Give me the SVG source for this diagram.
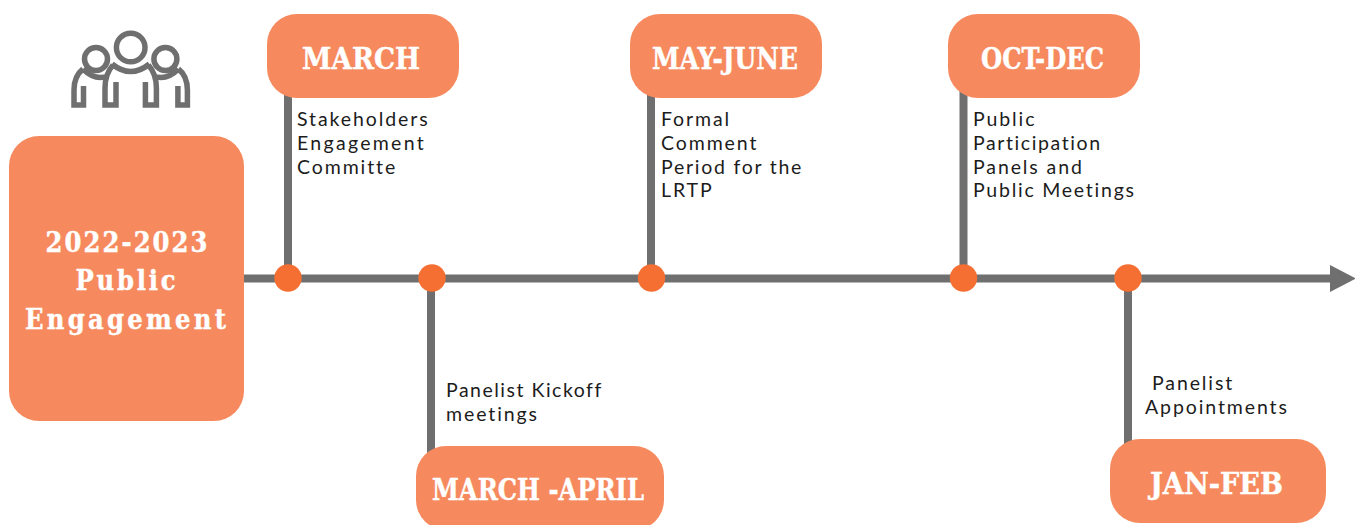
<svg xmlns="http://www.w3.org/2000/svg" width="1355" height="525" viewBox="0 0 1355 525">
<style>
.box{fill:#f68a5e}
.line{stroke:#6f6f6f;stroke-width:8;fill:none}
.dot{fill:#f56f33}
.h{font-family:"DejaVu Serif Condensed","DejaVu Serif",serif;font-weight:700;fill:#fff;text-anchor:middle;stroke:#fff;stroke-width:.4}
.m{font-size:30px}
.t{font-size:27px}
.b{font-family:Lato,"Noto Sans",sans-serif;font-size:19.5px;letter-spacing:1.9px;fill:#1c1c1c}
.ic{fill:none;stroke:#6f6f6f;stroke-width:5.500}
</style>
<rect width="1355" height="525" fill="#fff"/>
<g id="connectors">
<path class="line" d="M240 278.500H1332"/>
<path fill="#6f6f6f" d="M1330 265L1356 278.500L1330 292Z"/>
<path class="line" d="M288 90V278M651 90V278M963.500 90V278M431 278V455M1128 278V450"/>
</g>
<g id="dots">
<circle class="dot" cx="288" cy="278" r="13.700"/>
<circle class="dot" cx="432" cy="278" r="13.700"/>
<circle class="dot" cx="651.500" cy="278" r="13.700"/>
<circle class="dot" cx="963.500" cy="278" r="13.700"/>
<circle class="dot" cx="1128" cy="278" r="13.700"/>
</g>
<g id="icon" class="ic">
<circle cx="130.700" cy="47.500" r="14.300"/>
<circle cx="96" cy="59" r="11.500"/>
<path d="M112 64Q130.700 79 149.400 64"/>
<path d="M83 69Q74 76 74 90V105H83.500V86M83 69Q95 81 108 76M116 82V105H105V88Q105 74 113 65"/>
<circle cx="165.400" cy="59" r="11.500"/>
<path transform="matrix(-1 0 0 1 261.400 0)" d="M83 69Q74 76 74 90V105H83.500V86M83 69Q95 81 108 76M116 82V105H105V88Q105 74 113 65"/>
</g>
<g id="title"><rect class="box" x="9" y="136" width="235" height="285" rx="30"/>
<text class="h t" x="126.500" y="252" textLength="162">2022-2023</text><text class="h t" x="125.500" y="290" textLength="100">Public</text><text class="h t" x="125.500" y="329" textLength="201">Engagement</text></g>
<g id="march"><rect class="box" x="267" y="14" width="192" height="84" rx="30"/><text class="h m" x="361" y="69" textLength="118" lengthAdjust="spacingAndGlyphs">MARCH</text>
<text class="b"><tspan x="297" y="126">Stakeholders</tspan><tspan x="297" y="150" style="letter-spacing:2.3px">Engagement</tspan><tspan x="297" y="174">Committe</tspan></text></g>
<g id="mayjune"><rect class="box" x="630" y="14" width="192" height="84" rx="30"/><text class="h m" x="725" y="69" textLength="146" lengthAdjust="spacingAndGlyphs">MAY-JUNE</text>
<text class="b"><tspan x="661" y="126">Formal</tspan><tspan x="661" y="150">Comment</tspan><tspan x="661" y="174" style="letter-spacing:1.75px">Period for the</tspan><tspan x="661" y="197">LRTP</tspan></text></g>
<g id="octdec"><rect class="box" x="948" y="14" width="192" height="84" rx="30"/><text class="h m" x="1042.500" y="69" textLength="123" lengthAdjust="spacingAndGlyphs">OCT-DEC</text>
<text class="b"><tspan x="973" y="126">Public</tspan><tspan x="973" y="150" style="letter-spacing:1.6px">Participation</tspan><tspan x="973" y="174">Panels and</tspan><tspan x="973" y="197" style="letter-spacing:1.75px">Public Meetings</tspan></text></g>
<g id="marchapril"><rect class="box" x="416" y="446" width="248" height="84" rx="30"/><text class="h m" x="538" y="500" textLength="212" lengthAdjust="spacingAndGlyphs">MARCH -APRIL</text>
<text class="b"><tspan x="446" y="397" style="letter-spacing:1.5px">Panelist Kickoff</tspan><tspan x="446" y="421">meetings</tspan></text></g>
<g id="janfeb"><rect class="box" x="1110" y="439" width="216" height="84" rx="30"/><text class="h m" x="1216.500" y="494" textLength="133" lengthAdjust="spacingAndGlyphs">JAN-FEB</text>
<text class="b"><tspan x="1152" y="390">Panelist</tspan><tspan x="1145" y="414">Appointments</tspan></text></g>
</svg>
